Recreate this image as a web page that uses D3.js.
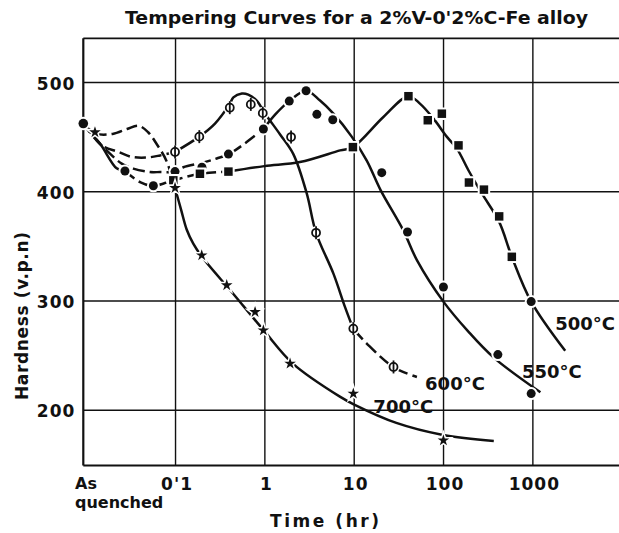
<!DOCTYPE html>
<html><head><meta charset="utf-8">
<script src="https://cdn.jsdelivr.net/npm/d3@7"></script>
<style>html,body{margin:0;padding:0;background:#fff;} svg{display:block;}</style>
</head><body>
<svg id="chart" width="619" height="533"></svg>
<script>
// ---------- data ----------
const AQ = 0.0094; // time position used for "As quenched" on the log axis (hr)
const titleText = "Tempering Curves for a 2%V-0'2%C-Fe alloy";
const xTickValues = [AQ, 0.1, 1, 10, 100, 1000];
const xTickLabels = ["As", "0'1", "1", "10", "100", "1000"];
const aqSecondLine = "quenched";
const yTickValues = [200, 300, 400, 500];
const yTickLabels = ["200", "300", "400", "500"];
const xTitle = "Time  (hr)";
const yTitle = "Hardness  (v.p.n)";

// drawn curves [time hr, hardness]
const line500Start = [[AQ,462],[0.0145,443.5],[0.0222,421],[0.0275,418.5]];
const line500Early = [[0.0275,418.5],[0.0406,408.4],[0.0572,405],[0.0957,410],[0.19,416],[0.396,418]];
const line500Main  = [[0.396,418],[1,423],[2.5,426.7],[7.05,437.4],[9.8,440.4],[21.5,468],[41,487],[55.5,480],[79,466],[110,450],[143,439],[193,419],[272,398],[425,372],[589,340],[970,299],[2330,254]];

const line550Early = [[AQ,462],[0.0133,446.6],[0.0187,434.4],[0.0253,425.3],[0.0341,420.7],[0.0525,417.6],[0.068,417.6],[0.1,418],[0.124,422],[0.2,426],[0.293,430],[0.4,434],[0.61,444],[0.975,457]];
const line550Main  = [[0.975,457],[1.35,471],[1.9,482.5],[2.93,492],[4.2,483],[5.93,471],[9.5,450],[14,428],[20,401],[36,364],[51,337],[101,299],[190,272],[367,248],[1230,216]];

const line600Early = [[AQ,462],[0.0151,442],[0.0232,436],[0.0327,431.5],[0.05,431],[0.068,432.8],[0.1,436]];
const line600Main  = [[0.1,436],[0.187,450],[0.28,462],[0.41,480],[0.45,486],[0.56,489.5],[0.66,488.5],[0.82,483],[1.02,471],[1.5,452],[2.11,434],[2.98,398],[3.79,362],[5.93,324.6],[8,294],[9.9,274]];
const line600Late  = [[9.9,274],[14,260.6],[27.9,239],[51,230]];

const line700Early = [[AQ,462],[0.0127,453],[0.02,452.5],[0.029,457],[0.039,460],[0.05,454],[0.062,443.5],[0.08,428],[0.1,403]];
const line700Main  = [[0.1,403],[0.117,383],[0.135,365],[0.16,352],[0.2,340],[0.45,306],[1,272],[2.1,242],[7,212],[10,205],[30,188],[100,177],[370,171.5]];

// measured points
const startPoint   = [[AQ,462]];
const squares500   = [[0.0957,410],[0.19,416],[0.396,418],[9.8,440.4],[41,487],[67.5,465],[97,471],[149,442],[195,408],[287,401.5],[425,377],[589,340]];
const circles500   = [[0.0275,418.5],[0.0572,405],[970,299]];
const circles550   = [[0.1,418],[0.2,422],[0.396,434],[0.975,457],[1.9,482.5],[2.93,492],[3.87,470.4],[5.83,465.5],[20.6,417],[40,362.7],[101,312.4],[411,250.5],[970,214.8]];
const phis600      = [[0.1,436],[0.187,450],[0.41,476.5],[0.705,479.5],[0.96,471.5],[1.99,449.6],[3.79,362],[9.9,274.3],[27.9,239.2]];
const stars700     = [[0.0127,454],[0.1,403],[0.199,341.4],[0.379,314],[0.787,289.5],[0.975,272.7],[1.94,242.3],[9.9,214.8],[101,172]];

// curve labels anchored in data units
const curveLabels  = ["500°C", "550°C", "600°C", "700°C"];
const labelTimes   = [1800, 764, 63, 16.6];
const labelHard    = [272.7, 228.8, 217.8, 197];

// ---------- drawing ----------
const svg = d3.select("#chart");
const W = 619, H = 533;
const x = d3.scaleLog().domain([AQ, 9400]).range([83.3, 619.3]);
const y = d3.scaleLinear().domain([149, 540]).range([465.5, 38.3]);
const ink = "#111";
const FONT = "DejaVu Sans";

svg.append("rect").attr("width", W).attr("height", H).attr("fill", "#fff");

// grid via axes
const gx = svg.append("g").attr("transform", `translate(0,${y(149)})`)
  .call(d3.axisBottom(x).tickValues(xTickValues.slice(1)).tickSize(-(y(149) - y(540))).tickFormat(""));
gx.select(".domain").remove();
gx.selectAll(".tick line").attr("stroke", ink).attr("stroke-width", 1.4);

const gy = svg.append("g").attr("transform", `translate(${x(AQ)},0)`)
  .call(d3.axisLeft(y).tickValues(yTickValues).tickSize(-(W - x(AQ))).tickPadding(8)
        .tickFormat((d, i) => yTickLabels[i]));
gy.select(".domain").remove();
gy.selectAll(".tick line").attr("stroke", ink).attr("stroke-width", 1.4);
gy.selectAll(".tick text").attr("font-family", FONT).attr("font-weight", "bold")
  .attr("font-size", 17).attr("fill", ink).attr("letter-spacing", 1).attr("dy", "0.42em");

// frame
svg.append("line").attr("x1", x(AQ)).attr("x2", W).attr("y1", y(540)).attr("y2", y(540)).attr("stroke", ink).attr("stroke-width", 1.8);
svg.append("line").attr("x1", x(AQ)).attr("x2", W).attr("y1", y(149)).attr("y2", y(149)).attr("stroke", ink).attr("stroke-width", 2.2);
svg.append("line").attr("x1", x(AQ)).attr("x2", x(AQ)).attr("y1", y(540)).attr("y2", y(149)).attr("stroke", ink).attr("stroke-width", 2.2);

// x tick labels
const xl = svg.append("g");
xTickValues.forEach((v, i) => {
  if (i === 0) {
    xl.append("text").attr("font-family", FONT).attr("font-weight", "bold")
      .attr("font-size", 16).attr("fill", ink).attr("x", 75).attr("y", 489).text(xTickLabels[i]);
    xl.append("text").attr("font-family", FONT).attr("font-weight", "bold")
      .attr("font-size", 16).attr("fill", ink).attr("x", 75).attr("y", 508).text(aqSecondLine);
  } else {
    xl.append("text").attr("font-family", FONT).attr("font-weight", "bold")
      .attr("font-size", 17).attr("fill", ink).attr("y", 490)
      .attr("x", x(v) + 2).attr("text-anchor", "middle").attr("letter-spacing", 1).text(xTickLabels[i]);
  }
});

// titles
svg.append("text").attr("x", 125).attr("y", 24).attr("font-family", FONT).attr("font-weight", "bold")
  .attr("font-size", 18).attr("fill", ink).attr("textLength", 463).attr("lengthAdjust", "spacingAndGlyphs").text(titleText);
svg.append("text").attr("x", 324.5).attr("y", 527).attr("text-anchor", "middle").attr("font-family", FONT)
  .attr("font-weight", "bold").attr("font-size", 17).attr("fill", ink).attr("textLength", 109)
  .attr("lengthAdjust", "spacing").text(xTitle);
svg.append("text").attr("transform", "translate(28,316) rotate(-90)").attr("text-anchor", "middle")
  .attr("font-family", FONT).attr("font-weight", "bold").attr("font-size", 17).attr("fill", ink)
  .attr("textLength", 168).attr("lengthAdjust", "spacing").text(yTitle);

// curves
const line = d3.line().x(d => x(d[0])).y(d => y(d[1])).curve(d3.curveCatmullRom.alpha(0.5));
const segs = [
  [line500Start, null], [line500Early, "12,5"], [line500Main, null],
  [line550Early, "12,5"], [line550Main, null],
  [line600Early, "11,5"], [line600Main, null], [line600Late, "14,5"],
  [line700Early, "11,5"], [line700Main, null]
];
const gc = svg.append("g");
segs.forEach(([pts, dash]) => {
  gc.append("path").attr("d", line(pts)).attr("fill", "none").attr("stroke", ink)
    .attr("stroke-width", 2.5).attr("stroke-linecap", "butt").attr("stroke-dasharray", dash);
});

// markers
const gm = svg.append("g");
function dots(data, r) {
  gm.selectAll(null).data(data).enter().append("circle")
    .attr("cx", d => x(d[0])).attr("cy", d => y(d[1])).attr("r", r)
    .attr("fill", ink).attr("stroke", "#fff").attr("stroke-width", 4).attr("paint-order", "stroke");
}
dots(startPoint, 4.8);
dots(circles500, 4.5);
dots(circles550, 4.5);
gm.selectAll(null).data(squares500).enter().append("path")
  .attr("d", d3.symbol(d3.symbolSquare, 72)())
  .attr("transform", d => `translate(${x(d[0])},${y(d[1])})`)
  .attr("fill", ink).attr("stroke", "#fff").attr("stroke-width", 4).attr("paint-order", "stroke");
gm.selectAll(null).data(stars700).enter().append("path")
  .attr("d", d3.symbol(d3.symbolStar, 42)())
  .attr("transform", d => `translate(${x(d[0])},${y(d[1])})`)
  .attr("fill", ink).attr("stroke", "#fff").attr("stroke-width", 3).attr("paint-order", "stroke");
const phi = gm.selectAll(null).data(phis600).enter().append("g")
  .attr("transform", d => `translate(${x(d[0])},${y(d[1])})`);
phi.append("circle").attr("r", 6.5).attr("fill", "#fff");
phi.append("circle").attr("r", 4).attr("fill", "#fff").attr("stroke", ink).attr("stroke-width", 1.8);
phi.append("line").attr("y1", -6.5).attr("y2", 6.5).attr("stroke", ink).attr("stroke-width", 1.8);

// curve labels
curveLabels.forEach((s, i) => {
  svg.append("text").attr("x", x(labelTimes[i])).attr("y", y(labelHard[i]))
    .attr("font-family", FONT).attr("font-weight", "bold").attr("font-size", 18).attr("fill", ink).text(s);
});
</script>
</body></html>
